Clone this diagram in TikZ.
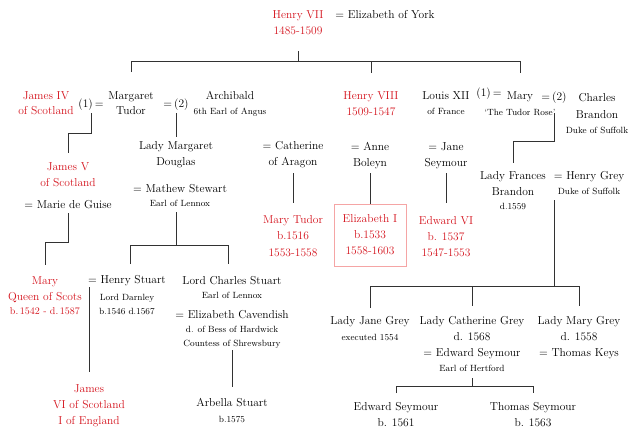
\documentclass[tikz,border=0pt]{standalone}
\usepackage{fontspec}
\setmainfont{Latin Modern Roman}
\definecolor{tred}{RGB}{212,18,28}
\definecolor{boxc}{RGB}{245,165,165}
\definecolor{linec}{RGB}{50,50,50}
\newcommand\smtxt[1]{{\fontsize{9}{14}\selectfont #1}}
\newcommand\mdtxt[1]{{\fontsize{10}{14}\selectfont #1}}
\tikzset{
  person/.style={align=center, inner sep=0pt, anchor=base, text=black,
                 font=\fontsize{11.5}{16}\selectfont},
  royal/.style={person, text=tred},
  conn/.style={draw=linec, line width=0.9pt},
}
\begin{document}
\begin{tikzpicture}[x=1pt,y=1pt]
\useasboundingbox (0,0) rectangle (633,-437);
% (node anchors are at the baseline of the last text line)
% row 0
\node[royal] (h7) at (298,-34) {Henry VII\\1485-1509};
\node[person] (eoy) at (385,-18) {= Elizabeth of York};
% row 1
\node[royal] (j4) at (46,-114) {James IV\\[-1pt]of Scotland};
\node[person] (m1) at (91,-107) {(1)\,=};
\node[person] (mt) at (131,-114) {Margaret\\[-1pt]Tudor};
\node[person] (m2) at (176,-107) {=\,(2)};
\node[person] (arch) at (230,-114) {Archibald\\[-1pt]\smtxt{6th Earl of Angus}};
\node[royal] (h8) at (371,-115) {Henry VIII\\1509-1547};
\node[person] (louis) at (446,-114) {Louis XII\\[-1pt]\smtxt{of France}};
\node[person] (m3) at (489,-96) {(1)\,=};
\node[person] (mary) at (520,-115) {Mary\\\smtxt{`The Tudor Rose'}};
\node[person] (m4) at (554,-100) {=\,(2)};
\node[person] (cb) at (597,-133) {Charles\\[1pt]Brandon\\[-1pt]\smtxt{Duke of Suffolk}};
% row 2
\node[person] (lmd) at (176,-165) {Lady Margaret\\Douglas};
\node[person] (coa) at (293,-165) {= Catherine\\of Aragon};
\node[person] (ab) at (370,-166) {= Anne\\Boleyn};
\node[person] (js) at (446,-166) {= Jane\\Seymour};
\node[person] (lfb) at (513,-209) {Lady Frances\\Brandon\\[-2pt]\smtxt{d.1559}};
\node[person] (hg) at (589,-194) {= Henry Grey\\[-1pt]\smtxt{Duke of Suffolk}};
\node[royal] (j5) at (68,-186) {James V\\of Scotland};
\node[person] (mdg) at (68,-208) {= Marie de Guise};
\node[person] (ms) at (180,-206) {= Mathew Stewart\\[-2pt]\smtxt{Earl of Lennox}};
% row 3
\node[royal] (mtud) at (293,-256) {Mary Tudor\\b.1516\\[1pt]1553-1558};
\node[royal, draw=boxc, line width=0.8pt, minimum width=72pt, minimum height=62pt,
      anchor=center] (e1) at (370,-235) {Elizabeth I\\b.1533\\1558-1603};
\node[royal] (e6) at (446,-256) {Edward VI\\b. 1537\\1547-1553};
% row 4
\node[royal] (mqs) at (45,-314) {Mary\\Queen of Scots\\[-2pt]\mdtxt{b.\,1542 - d.\,1587}};
\node[person] (hs) at (127,-314) {= Henry Stuart\\[1pt]\smtxt{Lord Darnley}\\[-2pt]\smtxt{b.1546 d.1567}};
\node[person] (lcs) at (232,-346) {Lord Charles Stuart\\[-2pt]\smtxt{Earl of Lennox}\\[4pt]= Elizabeth Cavendish\\[-2pt]\smtxt{d. of Bess of Hardwick}\\[-2pt]\smtxt{Countess of Shrewsbury}};
\node[person] (ljg) at (370,-340) {Lady Jane Grey\\\smtxt{executed 1554}};
\node[person] (lcg) at (472,-371) {Lady Catherine Grey\\d. 1568\\= Edward Seymour\\[-1pt]\smtxt{Earl of Hertford}};
\node[person] (lmg) at (579,-356) {Lady Mary Grey\\d. 1558\\= Thomas Keys};
% row 5
\node[royal] (j6) at (89,-424) {James\\VI of Scotland\\I of England};
\node[person] (arb) at (232,-422) {Arbella Stuart\\\smtxt{b.1575}};
\node[person] (es) at (396,-426) {Edward Seymour\\b. 1561};
\node[person] (ts) at (533,-426) {Thomas Seymour\\b. 1563};
% connectors
\coordinate (bar1) at (0,-61);
\draw[conn] (h7.base |- 0,-51) -- (h7.base |- bar1);
\draw[conn] (mt.base |- 0,-72) |- (mary.base |- bar1) -- (mary.base |- 0,-73);
\draw[conn] (h8.base |- bar1) -- (h8.base |- 0,-73);
\draw[conn] (m1.base |- 0,-113) -- (m1.base |- 0,-133) -| (j5.base |- 0,-153);
\draw[conn] (m2.base |- 0,-113) -- (m2.base |- 0,-137);
\draw[conn] (coa.base |- 0,-173) -- (mtud.base |- 0,-203);
\draw[conn] (ab.base |- 0,-173) -- (e1.north);
\draw[conn] (js.base |- 0,-173) -- (e6.base |- 0,-203);
\draw[conn] (m4.base |- 0,-113) -- (m4.base |- 0,-141) -| (lfb.base |- 0,-163);
\coordinate (hgl) at (554,-200);
\coordinate (bar2) at (0,-286);
\draw[conn] (hgl) -- (hgl |- bar2);
\draw[conn] (ljg.base |- 0,-308) |- (lmg.base |- bar2) -- (lmg.base |- 0,-306);
\draw[conn] (lcg.base |- bar2) -- (lcg.base |- 0,-306);
\draw[conn] (mdg.base |- 0,-213) -- (mdg.base |- 0,-242) -| (mqs.base |- 0,-265);
\coordinate (msl) at (176,-212);
\coordinate (bar3) at (0,-245);
\draw[conn] (msl) -- (msl |- bar3);
\draw[conn] (130,-264) |- (228,-245) -- (228,-264);
\coordinate (hsl) at (89,-287);
\draw[conn] (hsl) -- (j6.base |- 0,-372);
\draw[conn] (lcs.base |- 0,-350) -- (arb.base |- 0,-387);
\coordinate (lcgl) at (472,-378);
\coordinate (bar4) at (0,-386);
\draw[conn] (lcgl) -- (lcgl |- bar4);
\draw[conn] (es.base |- 0,-393) |- (ts.base |- bar4) -- (ts.base |- 0,-393);
\end{tikzpicture}
\end{document}
